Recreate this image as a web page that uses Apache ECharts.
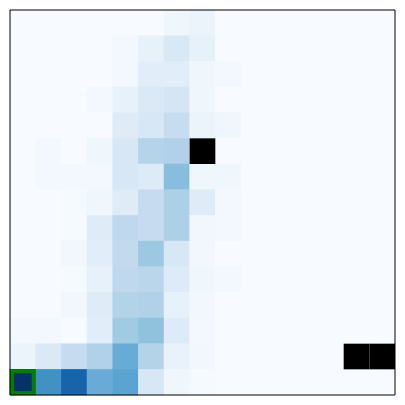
<!DOCTYPE html>
<html>
<head>
<meta charset="utf-8">
<script src="https://cdn.jsdelivr.net/npm/echarts@6/dist/echarts.min.js"></script>
<style>html,body{margin:0;padding:0;background:#fff;}#c{width:405px;height:405px;}</style>
</head>
<body>
<div id="c"></div>
<script>
const xCats = ['0','1','2','3','4','5','6','7','8','9','10','11','12','13','14'];
const yCats = ['0','1','2','3','4','5','6','7','8','9','10','11','12','13','14'];
// counts, rows listed from top of picture to bottom; null = masked cell
const counts = [
  [0,0,0,0,0,0,4,6,0,0,0,0,0,0,0],
  [0,0,0,0,2,8,15,8,0,0,0,0,0,0,0],
  [0,0,0,0,2,11,11,4,2,0,0,0,0,0,0],
  [0,0,0,2,8,14,17,4,0,0,0,0,0,0,0],
  [0,0,0,0,12,16,24,6,4,0,0,0,0,0,0],
  [0,2,0,4,16,30,32,null,0,0,0,0,0,0,0],
  [0,2,2,2,16,13,43,4,4,0,0,0,0,0,0],
  [0,0,1,4,12,25,33,12,2,0,0,0,0,0,0],
  [0,0,1,12,27,25,33,3,2,0,0,0,0,0,0],
  [0,0,3,11,26,38,16,3,0,0,0,0,0,0,0],
  [0,0,1,8,27,29,13,4,2,0,0,0,0,0,0],
  [0,0,3,12,31,32,8,3,0,0,0,0,0,0,0],
  [2,2,0,11,37,41,13,2,0,0,0,0,0,0,0],
  [6,14,25,32,51,31,7,3,0,0,0,0,0,null,null],
  [100,63,80,51,55,16,4,1,0,0,0,0,0,0,0]
];
const highlightCell = [0, 0]; // x index, y index (from bottom)
const blues = ['#f7fbff','#deebf7','#c6dbef','#9ecae1','#6baed6','#4292c6','#2171b5','#08519c','#08306b'];

const nRows = counts.length;
const heatData = [];
const maskedData = [];
counts.forEach((row, r) => {
  row.forEach((v, c) => {
    const y = nRows - 1 - r;
    if (v === null) maskedData.push([c, y, 0]);
    else heatData.push([c, y, v]);
  });
});

const chart = echarts.init(document.getElementById('c'), null, {renderer: 'canvas'});
const hiddenAxis = {
  type: 'category',
  axisLine: {show: false}, axisTick: {show: false}, axisLabel: {show: false},
  splitLine: {show: false}, splitArea: {show: false}
};
chart.setOption({
  animation: false,
  backgroundColor: '#fff',
  grid: {left: 10, right: 10, top: 10, bottom: 10, show: true, borderColor: '#000', borderWidth: 1, backgroundColor: 'transparent', z: 10},
  xAxis: Object.assign({}, hiddenAxis, {data: xCats}),
  yAxis: Object.assign({}, hiddenAxis, {data: yCats}),
  visualMap: {show: false, min: 0, max: 100, seriesIndex: 0, inRange: {color: blues}},
  series: [
    {type: 'heatmap', data: heatData, itemStyle: {borderWidth: 0}, emphasis: {disabled: true}},
    {type: 'custom', data: maskedData, renderItem: function (params, api) {
      const p = api.coord([api.value(0), api.value(1)]);
      const s = api.size([1, 1]);
      return {type: 'rect', shape: {x: p[0] - s[0] / 2, y: p[1] - s[1] / 2, width: s[0], height: s[1]}, style: {fill: '#000'}};
    }},
    {type: 'custom', data: [highlightCell], z: 5, renderItem: function (params, api) {
      const p = api.coord([api.value(0), api.value(1)]);
      const s = api.size([1, 1]);
      return {type: 'rect', shape: {x: p[0] - s[0] / 2 + 2, y: p[1] - s[1] / 2 + 2, width: s[0] - 4, height: s[1] - 4}, style: {fill: 'none', stroke: '#008000', lineWidth: 4}};
    }}
  ]
});
</script>
</body>
</html>
